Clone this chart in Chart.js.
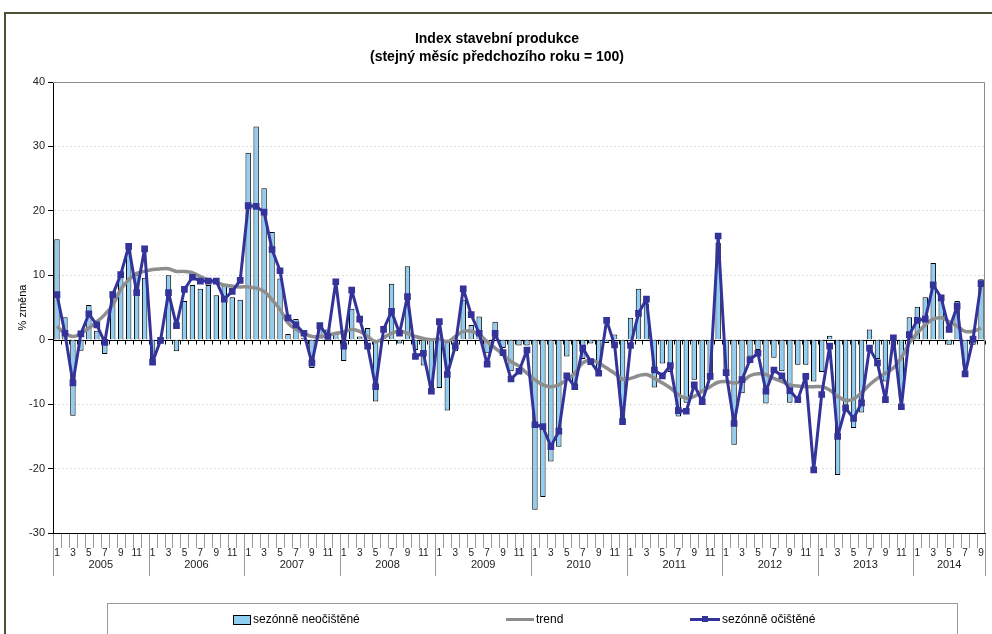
<!DOCTYPE html>
<html>
<head>
<meta charset="utf-8">
<script src="https://cdn.jsdelivr.net/npm/chart.js@4.4.1/dist/chart.umd.min.js"></script>
<style>
    body{margin:0;background:#fff;font-family:"Liberation Sans",Arial,sans-serif;}
    #obal{position:relative;width:992px;height:634px;overflow:hidden;}
    #legenda{position:absolute;left:107px;top:603px;width:851px;height:32px;border:1px solid #9a9a9a;box-sizing:border-box;font-size:12px;color:#000;}
    .pol{position:absolute;top:8px;white-space:nowrap;}
    .znacka{display:inline-block;vertical-align:middle;margin-right:2px;}
</style>
</head>
<body>
<div id="obal">
    <canvas id="graf" width="992" height="634"></canvas>
    <div id="legenda"></div>
</div>
<script>
const roky = ['2005','2006','2007','2008','2009','2010','2011','2012','2013','2014'];
const mesice = ['1','2','3','4','5','6','7','8','9','10','11','12'];
const pocetMesicu = 117; // leden 2005 - zari 2014

const neocistene = [
    15.6, 3.5, -11.8, -1.7, 5.4, 1.4, -2.2, 7.5, 9.8, 14.8, 10.0, 9.6,
    -3.0, -0.6, 10.0, -1.8, 6.0, 8.5, 7.9, 8.5, 6.9, 8.4, 6.6, 6.2,
    29.0, 33.1, 23.5, 16.7, 9.5, 0.9, 3.2, 0.3, -4.4, 2.2, 1.6, 1.0,
    -3.3, 4.8, 0.5, 1.8, -9.6, 0.5, 8.7, -0.6, 11.4, -1.6, -4.0, -7.8,
    -7.5, -11.0, -1.8, 6.2, 2.3, 3.6, -2.1, 2.8, -1.3, -4.9, -0.9, -0.9,
    -26.4, -24.4, -18.9, -16.6, -2.6, -7.0, -3.0, -0.6, -4.5, -0.5, 0.8, -12.3,
    3.4, 7.9, 5.5, -7.4, -3.7, -5.0, -11.9, -9.8, -6.2, -8.0, -6.0, 15.0,
    -5.0, -16.3, -8.3, -2.6, -1.6, -9.9, -2.8, -4.9, -9.8, -3.9, -3.9, -6.5,
    -5.0, 0.6, -21.0, -10.1, -13.7, -11.3, 1.6, -3.0, -6.5, -1.0, -9.0, 3.5,
    5.1, 6.6, 11.9, 6.7, -0.8, 6.0, -4.0, -0.8, 9.4
];
const trend = [
    2.1, 1.0, 0.5, 1.0, 1.8, 2.8, 3.9, 5.4, 7.8, 9.3, 10.3, 10.6,
    10.9, 11.0, 11.0, 10.6, 10.6, 10.4, 9.8, 9.3, 8.9, 8.5, 8.3, 8.2,
    8.2, 8.0, 7.5, 6.2, 4.7, 2.6, 1.6, 1.0, 0.5, 0.5, 0.7, 1.0,
    1.2, 1.6, 1.3, 0.5, -0.3, 0.3, 1.0, 1.3, 1.0, 0.5, 0.2, 0.0,
    0.1, -0.3, 0.5, 1.3, 1.3, 0.8, -0.3, -1.3, -2.3, -3.4, -4.1, -5.2,
    -6.2, -7.0, -7.3, -7.0, -6.2, -5.2, -3.6, -3.2, -3.6, -4.4, -5.2, -6.1,
    -6.0, -5.6, -5.4, -6.0, -6.7, -7.5, -8.5, -9.1, -8.8, -8.0, -7.3, -6.6,
    -6.5, -6.7, -6.5, -5.6, -5.3, -5.4, -6.0, -6.5, -7.0, -7.2, -7.3, -7.3,
    -7.3, -7.8, -8.8, -9.4, -9.2, -8.2, -7.0, -6.0, -5.2, -4.4, -2.8, -0.5,
    1.0, 2.3, 3.2, 3.4, 2.8, 2.1, 1.3, 1.3, 1.8
];
const ocistene = [
    7.0, 1.0, -6.7, 0.9, 4.0, 2.3, -0.4, 7.0, 10.1, 14.5, 7.3, 14.1,
    -3.5, -0.1, 7.3, 2.2, 7.8, 9.7, 9.1, 9.1, 9.1, 6.3, 7.5, 9.2,
    20.8, 20.7, 19.8, 14.0, 10.7, 3.4, 2.3, 1.0, -3.6, 2.2, 0.5, 9.0,
    -1.0, 7.7, 3.2, -1.0, -7.3, 1.6, 4.4, 1.0, 6.7, -2.6, -2.1, -8.0,
    2.8, -5.4, -1.0, 7.9, 3.9, 1.0, -3.8, 1.0, -2.0, -6.1, -4.9, -1.6,
    -13.2, -13.5, -16.6, -14.2, -5.6, -7.3, -1.3, -3.4, -5.2, 3.0, -0.8, -12.7,
    -0.9, 4.1, 6.3, -4.7, -5.6, -4.0, -11.0, -11.1, -7.0, -9.6, -5.7, 16.1,
    -5.1, -13.0, -6.2, -3.1, -2.1, -8.0, -4.7, -5.6, -7.9, -9.3, -5.7, -20.2,
    -8.5, -1.0, -15.0, -10.6, -12.2, -9.8, -1.3, -3.6, -9.3, 0.3, -10.4, 0.8,
    3.0, 3.2, 8.5, 6.5, 1.6, 5.2, -5.3, 0.1, 8.7
];
const osaY = [-30, -20, -10, 0, 10, 20, 30, 40];

const pismo = '"Liberation Sans", Arial, sans-serif';

// popisky kategorii: cislo mesice
let popisky = [];
for(let i = 0; i < pocetMesicu; i++){
    popisky.push(mesice[i % 12]);
}

// vlastni kresleni: nadpis, roky, oddelovace, ramecky
const doplnky = {
    id: 'doplnky',
    beforeDatasetsDraw(chart){
        const ctx = chart.ctx;
        const a = chart.chartArea;
        const y0 = Math.round(chart.scales.y.getPixelForValue(0)) + 0.5;
        ctx.save();
        ctx.strokeStyle = '#000';
        ctx.lineWidth = 1;
        ctx.beginPath();
        ctx.moveTo(a.left, y0);
        ctx.lineTo(a.right, y0);
        const x = chart.scales.x;
        for(let i = 0; i <= pocetMesicu; i++){
            const px = Math.round(hranice(x, i)) + 0.5;
            ctx.moveTo(px, y0);
            ctx.lineTo(px, y0 + 4);
        }
        ctx.stroke();
        ctx.restore();
    },
    afterDraw(chart){
        const ctx = chart.ctx;
        const a = chart.chartArea;
        const x = chart.scales.x;
        ctx.save();
        // ramecek plochy grafu
        ctx.strokeStyle = '#8a8a8a';
        ctx.lineWidth = 1;
        ctx.beginPath();
        ctx.moveTo(a.left, a.top + 0.5);
        ctx.lineTo(a.right - 0.5, a.top + 0.5);
        ctx.lineTo(a.right - 0.5, a.bottom);
        ctx.stroke();

        // oddelovace mesicu a roku
        ctx.strokeStyle = '#9a9a9a';
        ctx.beginPath();
        for(let i = 0; i <= pocetMesicu; i++){
            const px = Math.round(hranice(x, i)) + 0.5;
            const konec = (i % 12 === 0 || i === pocetMesicu) ? a.bottom + 43 : a.bottom + 15;
            ctx.moveTo(px, a.bottom + 1);
            ctx.lineTo(px, konec);
        }
        ctx.stroke();

        ctx.fillStyle = '#222';
        ctx.font = '11px ' + pismo;
        ctx.textAlign = 'center';
        ctx.textBaseline = 'middle';
        roky.forEach((rok, r) => {
            const od = hranice(x, r * 12);
            const doo = hranice(x, Math.min((r + 1) * 12, pocetMesicu));
            ctx.fillText(rok, (od + doo) / 2, a.bottom + 32);
        });

        // nadpis
        ctx.fillStyle = '#000';
        ctx.font = 'bold 14px ' + pismo;
        ctx.fillText('Index stavební produkce', 497, 39);
        ctx.fillText('(stejný měsíc předchozího roku = 100)', 497, 57);

        // vnejsi ramecek
        ctx.strokeStyle = '#4f4f36';
        ctx.lineWidth = 2;
        ctx.strokeRect(5, 13, 1000, 700);
        ctx.restore();
    }
};

function hranice(x, i){
    // levy okraj mesice i
    const krok = (x.getPixelForValue(1) - x.getPixelForValue(0));
    return x.getPixelForValue(0) - krok / 2 + krok * i;
}

const ctx = document.getElementById('graf').getContext('2d');
const chart = new Chart(ctx, {
    type: 'bar',
    data: {
        labels: popisky,
        datasets: [{
            type: 'bar',
            label: 'sezónně neočištěné',
            data: neocistene,
            backgroundColor: '#8fcdf2',
            borderColor: '#000',
            borderWidth: 1,
            categoryPercentage: 1,
            barPercentage: 0.68,
            order: 3
        },{
            type: 'line',
            label: 'trend',
            data: trend,
            borderColor: '#8e8e8e',
            borderWidth: 3.5,
            borderJoinStyle: 'round',
            pointRadius: 0,
            tension: 0.4,
            order: 2
        },{
            type: 'line',
            label: 'sezónně očištěné',
            data: ocistene,
            borderColor: '#33339a',
            backgroundColor: '#33339a',
            borderWidth: 3,
            borderJoinStyle: 'round',
            pointStyle: 'rect',
            pointRadius: 2.6,
            tension: 0,
            order: 1
        }]
    },
    options: {
        responsive: false,
        animation: false,
        layout: {padding: {top: 82, left: 12, right: 2, bottom: 56}},
        plugins: {
            legend: {display: false},
            tooltip: {enabled: false}
        },
        scales: {
            x: {
                offset: true,
                grid: {display: false},
                border: {display: true, color: '#000', width: 1},
                ticks: {
                    autoSkip: false,
                    maxRotation: 0,
                    padding: 6,
                    color: '#222',
                    font: {family: pismo, size: 10},
                    callback: function(v, i){
                        return (i % 2 === 0) ? popisky[i] : '';
                    }
                },
                afterFit: function(s){ s.height = 45; }
            },
            y: {
                min: osaY[0],
                max: osaY[osaY.length - 1],
                afterBuildTicks: function(s){ s.ticks = osaY.map(v => ({value: v})); },
                grid: {color: '#dcdcdc', tickColor: '#000', tickLength: 5},
                border: {display: true, color: '#000', width: 1, dash: [2, 2]},
                ticks: {color: '#222', padding: 3, font: {family: pismo, size: 11}},
                title: {display: true, text: '% změna', color: '#000', font: {family: pismo, size: 11}},
                afterFit: function(s){ s.width = 41; }
            }
        }
    },
    plugins: [doplnky]
});

// legenda v ramecku
const pozice = [[233, 252], [506, 537], [690, 723]];
let html = '';
chart.data.datasets.forEach((d, i) => {
    let znacka = '';
    if(d.type === 'bar'){
        znacka = `<span class="znacka" style="width:16px;height:8px;background:${d.backgroundColor};border:1px solid #000;"></span>`;
    }else if(i === 1){
        znacka = `<span class="znacka" style="width:28px;height:3px;background:${d.borderColor};"></span>`;
    }else{
        znacka = `<span class="znacka" style="position:relative;width:30px;height:3px;background:${d.borderColor};"><span style="position:absolute;left:12px;top:-2px;width:6px;height:6px;background:${d.borderColor};"></span></span>`;
    }
    html += `<div class="pol" style="left:${pozice[i][0] - 108}px;">${znacka}<span>${d.label}</span></div>`;
});
document.getElementById('legenda').innerHTML = html;
</script>
</body>
</html>
